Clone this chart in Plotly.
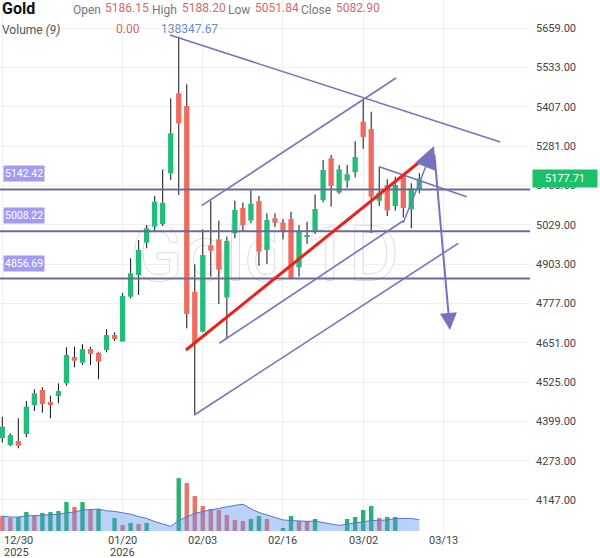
import plotly.graph_objects as go
import pandas as pd

# ---------------- data ----------------
bar_index = list(range(53))
opens = [4344.8, 4323.3, 4336.1, 4358.5, 4451.5, 4499.6, 4461.1, 4480.4, 4521.1, 4605.4,
         4587.1, 4631.0, 4619.1, 4627.8, 4675.9, 4654.5, 4798.7, 4868.2, 4971.7, 5023.0,
         5031.7, 5194.2, 5450.6, 5409.9, 4814.7, 4686.5, 4963.4, 4982.6, 4796.1, 5001.9,
         5083.0, 5042.9, 5105.4, 4948.4, 5050.0, 5035.9, 5047.7, 4892.9, 4990.0, 5010.9,
         5108.6, 5242.3, 5132.7, 5170.5, 5197.7, 5359.6, 5336.2, 5106.4, 5156.7, 5089.4,
         5186.15, 5078.8, 5140.7]
highs = [4414.0, 4360.8, 4408.9, 4464.4, 4501.8, 4508.3, 4481.4, 4521.1, 4636.5, 4638.4,
         4646.1, 4638.4, 4622.3, 4694.2, 4684.6, 4810.5, 4921.7, 4980.4, 5028.5, 5121.4,
         5207.0, 5434.6, 5632.1, 5479.5, 4902.5, 5014.7, 5106.4, 5042.3, 4991.0, 5106.4,
         5100.6, 5139.7, 5121.4, 5066.0, 5066.0, 5047.7, 5071.1, 5028.5, 5039.1, 5126.3,
         5236.8, 5252.9, 5220.8, 5220.8, 5297.1, 5431.4, 5391.7, 5215.4, 5175.0, 5183.3,
         5188.20, 5162.2, 5194.2]
lows = [4330.7, 4320.0, 4312.7, 4348.0, 4432.3, 4426.8, 4408.9, 4457.0, 4513.4, 4572.4,
        4580.0, 4579.7, 4533.9, 4620.4, 4656.7, 4654.5, 4793.5, 4804.1, 4953.8, 5007.0,
        5025.3, 5172.7, 5124.7, 4697.4, 4419.5, 4684.5, 4862.8, 4775.3, 4665.3, 4985.9,
        5007.0, 5034.0, 4897.1, 4903.5, 5023.0, 4982.6, 4854.4, 4862.8, 4967.6, 4999.6,
        5101.2, 5087.1, 5127.9, 5148.0, 5181.4, 5272.7, 5002.9, 5089.4, 5057.3, 5074.3,
        5051.84, 5017.9, 5130.1]
closes = [4382.0, 4355.4, 4321.0, 4446.1, 4489.0, 4454.7, 4451.5, 4496.4, 4611.8, 4593.5,
          4630.8, 4615.0, 4590.3, 4675.9, 4663.1, 4801.0, 4873.6, 4948.4, 5017.9, 5103.2,
          5099.9, 5322.4, 5354.5, 4743.2, 4649.3, 4932.3, 4946.1, 4885.2, 4977.2, 5076.4,
          5027.5, 5096.8, 4942.9, 5044.5, 5035.9, 5009.3, 4857.6, 5007.0, 4996.4, 5079.8,
          5204.8, 5153.5, 5207.0, 5191.3, 5246.4, 5310.6, 5119.2, 5132.0, 5075.0, 5156.7,
          5082.90, 5146.1, 5177.71]
volumes = [165000, 143000, 154000, 209000, 176000, 198000, 209000, 220000, 319000, 264000,
           319000, 231000, 242000, 0, 143000, 66000, 88000, 77000, 88000, 0,
           0, 0, 583000, 528000, 385000, 275000, 242000, 231000, 176000, 121000,
           110000, 132000, 165000, 132000, 0, 33000, 165000, 110000, 110000, 132000,
           0, 0, 0, 132000, 154000, 231000, 275000, 143000, 154000, 154000,
           0, 0, 0]
volume_up = [0, 0, 1, 1, 0, 1, 1, 1, 1, 0, 1, 0, 1, 1, 1, 0, 1, 0, 1, 1,
             1, 1, 1, 0, 0, 0, 0, 0, 0, 0, 0, 1, 1, 0, 1, 1, 1, 0, 0, 1,
             1, 1, 1, 1, 1, 1, 1, 0, 1, 1, 1, 1, 1]
ma_period = 9
header_bar = 50
header_volume = [0.00, 138347.67]   # volume, MA(9) shown in the header

tick_index = [0, 15, 25, 35, 45, 55]
tick_dates = ["12/30", "01/20", "02/03", "02/16", "03/02", "03/13"]
tick_years = ["2025", "2026", "", "", "", ""]
price_ticks = [5659, 5533, 5407, 5281, 5155, 5029, 4903, 4777, 4651, 4525, 4399, 4273, 4147]

levels = [5142.42, 5008.22, 4856.69]
# drawn trend lines: ((bar, price), (bar, price))
trend_lines = [
    ((20.9, 5637.5), (62.1, 5294.5)),
    ((24.86, 5090.4), (49.09, 5499.7)),
    ((27.06, 4649.3), (50.0, 5042.0)),
    ((23.94, 4419.5), (56.86, 4969.8)),
    ((47.0, 5215.4), (57.9, 5119.2)),
]
red_line = ((22.9, 4627.8), (53.1, 5252.9))
up_arrow = ((49.92, 5030.7), (53.83, 5281.7))
down_arrow = ((53.87, 5258.3), (55.82, 4691.9))

# ---------------- style ----------------
GREEN = "#22bd78"
RED = "#ef6b60"
VGREEN = "#27b36f"
VRED = "#e8746a"
LINE = "#7772c0"
LEVEL = "#6c6a9a"
FONT = "Roboto"

X_RANGE = [-0.287, 65.8]
Y_RANGE = [4047.6, 5749.7]
PLOT_H = 531
V_SCALE = 11016

fig = go.Figure()

# watermark
fig.add_trace(go.Scatter(
    x=[sum(X_RANGE) / 2], y=[sum(Y_RANGE) / 2 + 15], mode="text", text=["Gold 1D"],
    textposition="middle center",
    textfont=dict(family=FONT, size=76, color="rgba(255,255,255,1)",
                  shadow="1px 0 #dcdcdc, -1px 0 #dcdcdc, 0 1px #dcdcdc, 0 -1px #dcdcdc"),
    hoverinfo="skip", showlegend=False, zorder=-5))

# wicks
wx, wy = [], []
for i, o, h, l, c in zip(bar_index, opens, highs, lows, closes):
    top, bot = max(o, c), min(o, c)
    wx += [i, i, None, i, i, None]
    wy += [h, top, None, bot, l, None]
fig.add_trace(go.Scatter(x=wx, y=wy, mode="lines", line=dict(color="#111111", width=1),
                         hoverinfo="skip", showlegend=False))

# bodies
fig.add_trace(go.Bar(
    x=bar_index, y=[max(abs(c - o), 1.5) for o, c in zip(opens, closes)],
    base=[min(o, c) for o, c in zip(opens, closes)],
    marker=dict(color=[GREEN if c >= o else RED for o, c in zip(opens, closes)], line=dict(width=0)),
    width=0.66, showlegend=False, hoverinfo="skip"))

# volume
fig.add_trace(go.Bar(
    x=bar_index, y=volumes, yaxis="y2",
    marker=dict(color=[VGREEN if u else VRED for u in volume_up], line=dict(width=0)),
    width=0.55, showlegend=False, hoverinfo="skip"))
vol_ma = pd.Series(volumes).rolling(ma_period, min_periods=1).mean()
fig.add_trace(go.Scatter(
    x=bar_index, y=vol_ma, yaxis="y2", mode="lines", fill="tozeroy",
    fillcolor="rgba(95,145,235,0.42)", line=dict(color="#4f78cf", width=1),
    showlegend=False, hoverinfo="skip"))

shapes = []
for lv in levels:
    shapes.append(dict(type="line", xref="paper", x0=0, x1=1, yref="y", y0=lv, y1=lv,
                       line=dict(color=LEVEL, width=2)))
for (x0, y0), (x1, y1) in trend_lines:
    shapes.append(dict(type="line", xref="x", yref="y", x0=x0, y0=y0, x1=x1, y1=y1,
                       line=dict(color=LINE, width=1.6)))
(rx0, ry0), (rx1, ry1) = red_line
shapes.append(dict(type="line", xref="x", yref="y", x0=rx0, y0=ry0, x1=rx1, y1=ry1,
                   line=dict(color="#e8231c", width=3)))

ann = []
for (ax, ay), (x, y), w, s in [(up_arrow[0], up_arrow[1], 1.5, 3.0), (down_arrow[0], down_arrow[1], 2, 1.7)]:
    ann.append(dict(x=x, y=y, xref="x", yref="y", ax=ax, ay=ay, axref="x", ayref="y",
                    text="", showarrow=True, arrowhead=2, arrowsize=s, arrowwidth=w,
                    arrowcolor=LINE, standoff=0))

# level labels
for lv in levels:
    ann.append(dict(x=0, xref="paper", xanchor="left", xshift=3, y=lv, yref="y", yshift=15.5,
                    text=f"{lv:.2f}", showarrow=False, bgcolor="#a19cf2", borderpad=1,
                    font=dict(family=FONT, size=10.5, color="white")))

# last price badge
ann.append(dict(x=1, xref="paper", xanchor="left", xshift=2, y=closes[-1], yref="y",
                text=f"{closes[-1]:.2f}", showarrow=False, bgcolor="#19c168", width=62, height=15,
                font=dict(family=FONT, size=11, color="white")))

# x tick labels
for ti, td, ty in zip(tick_index, tick_dates, tick_years):
    anchor = "left" if ti == tick_index[0] else "center"
    ann.append(dict(x=ti, xref="x", xanchor=anchor, y=0, yref="paper", yanchor="middle", yshift=-9,
                    text=td, showarrow=False, font=dict(family=FONT, size=11, color="#444")))
    if ty:
        ann.append(dict(x=ti, xref="x", xanchor=anchor, y=0, yref="paper", yanchor="middle", yshift=-21.5,
                        text=ty, showarrow=False, font=dict(family=FONT, size=11, color="#444")))

# header
def hdr(px, py, text, color, size=12, bold=False):
    ann.append(dict(x=px / 530, xref="paper", xanchor="left", y=1 - py / PLOT_H, yref="paper",
                    yanchor="middle", text=f"<b>{text}</b>" if bold else text, showarrow=False,
                    font=dict(family=FONT, size=size, color=color)))

o_, h_, l_, c_ = opens[header_bar], highs[header_bar], lows[header_bar], closes[header_bar]
hdr(0, 9, "Gold", "#111", 16, True)
hdr(71, 10, "Open", "#777")
hdr(103, 8, f"{o_:.2f}", "#d06a6a")
hdr(150, 10, "High", "#777")
hdr(180, 8, f"{h_:.2f}", "#d06a6a")
hdr(226, 10, "Low", "#777")
hdr(253, 8, f"{l_:.2f}", "#d06a6a")
hdr(299, 10, "Close", "#777")
hdr(334, 8, f"{c_:.2f}", "#d06a6a")
hdr(0, 30, "Volume <i>(9)</i>", "#555")
hdr(114, 29, f"{header_volume[0]:.2f}", "#d06a6a")
hdr(159, 29, f"{header_volume[1]:.2f}", "#6a8cc9")

fig.update_layout(
    width=600, height=558, margin=dict(l=0, r=70, t=0, b=27),
    paper_bgcolor="white", plot_bgcolor="white", barmode="overlay",
    font=dict(family=FONT), showlegend=False,
    xaxis=dict(range=X_RANGE, tickvals=tick_index, showticklabels=False, showgrid=True,
               gridcolor="#efefef", zeroline=False, showline=False, ticks=""),
    yaxis=dict(range=Y_RANGE, side="right", tickvals=price_ticks, tickformat=".2f",
               showgrid=True, gridcolor="#f0f0f0", zeroline=False, ticks="",
               tickfont=dict(family=FONT, size=11, color="#444"), ticklabelstandoff=5),
    yaxis2=dict(range=[0, PLOT_H * V_SCALE], overlaying="y", visible=False),
    shapes=shapes, annotations=ann,
)

fig.write_html("out.html", config={"displayModeBar": False},
               post_script=["document.body.style.margin='0px';"])
